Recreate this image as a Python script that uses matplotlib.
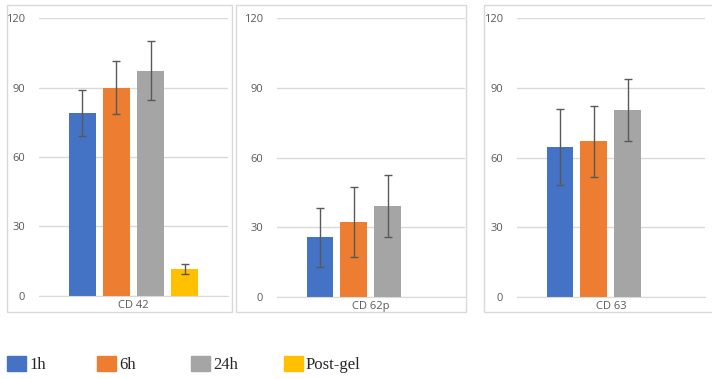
import matplotlib.pyplot as plt
from matplotlib.patches import Rectangle
import numpy as np

# dados
categorias = ['CD 42', 'CD 62p', 'CD 63']
series = ['1h', '6h', '24h', 'Post-gel']
media_1h = [79, 25.6, 64.5]
media_6h = [90, 32.1, 67.0]
media_24h = [97.4, 39.1, 80.3]
media_post = [11.5, np.nan, np.nan]
erro_1h = [10, 12.6, 16.2]
erro_6h = [11.6, 15.1, 15.2]
erro_24h = [12.8, 13.5, 13.4]
erro_post = [2.3, np.nan, np.nan]
yticks = [0, 30, 60, 90, 120]

medias = [media_1h, media_6h, media_24h, media_post]
erros = [erro_1h, erro_6h, erro_24h, erro_post]
cores = ['#4472C4', '#ED7D31', '#A5A5A5', '#FFC000']

fig = plt.figure(figsize=(7.12, 3.79), dpi=100)
W, H = 712, 379

# molduras dos paineis (pixels)
molduras = [(7, 232), (236, 466), (484, 716)]
for x0, x1 in molduras:
    fig.patches.append(Rectangle((x0 / W, 1 - 312 / H), (x1 - x0) / W, 307 / H,
                                 transform=fig.transFigure, fill=False,
                                 edgecolor='#D9D9D9', lw=1))

# posicoes dos eixos (pixels)
eixos = [(39, 228, 295.5), (276.7, 465, 296.7), (516.7, 705, 296.7)]
larg = 0.143
passo = 0.18

for i, (x0, x1, yb) in enumerate(eixos):
    ax = fig.add_axes([x0 / W, 1 - yb / H, (x1 - x0) / W, (yb - 18.3) / H])
    for j in range(4):
        v = medias[j][i]
        if np.isnan(v):
            continue
        pos = (j - 1.5) * passo
        ax.bar(pos, v, width=larg, color=cores[j], zorder=2)
        ax.errorbar(pos, v, yerr=erros[j][i], color='#595959', lw=1,
                    capsize=3, capthick=1, zorder=3)
    ax.set_xlim(-0.5, 0.5)
    ax.set_ylim(0, 120)
    ax.set_yticks(yticks)
    ax.set_xticks([0])
    ax.set_xticklabels([categorias[i]])
    ax.grid(axis='y', color='#D9D9D9', lw=1, zorder=0)
    for s in ['top', 'right', 'left']:
        ax.spines[s].set_visible(False)
    ax.spines['bottom'].set_color('#D9D9D9')
    ax.tick_params(length=0, labelsize=8, colors='#595959')
    ax.tick_params(axis='y', pad=10)
    ax.tick_params(axis='x', pad=3)
    for t in ax.get_xticklabels() + ax.get_yticklabels():
        t.set_fontfamily('Open Sans')

# legenda
leg_x = [7, 97, 191, 284]
for j, nome in enumerate(series):
    fig.patches.append(Rectangle((leg_x[j] / W, 1 - 371 / H), 19 / W, 15 / H,
                                 transform=fig.transFigure, color=cores[j]))
    fig.text((leg_x[j] + 22) / W, 1 - 365 / H, nome, fontsize=12,
             family='Liberation Serif', va='center', ha='left', color='#262626')

plt.savefig('out.png', dpi=100)
